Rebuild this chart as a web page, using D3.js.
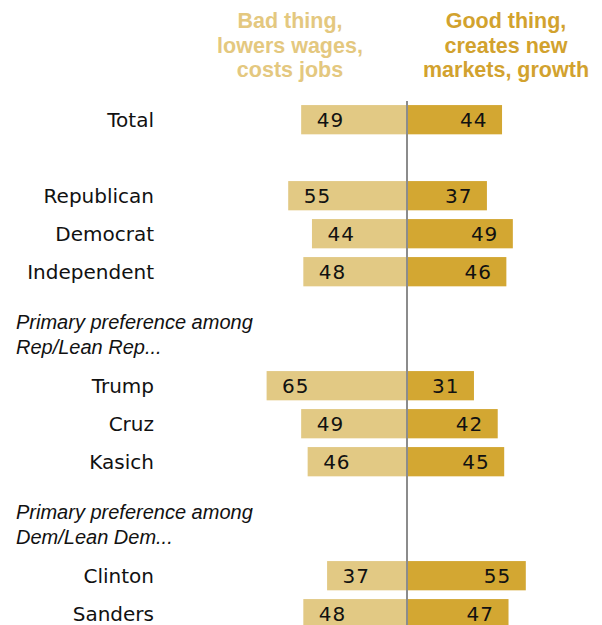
<!DOCTYPE html>
<html>
<head>
<meta charset="utf-8">
<script src="https://cdn.jsdelivr.net/npm/d3@7"></script>
<style>
  html, body { margin: 0; padding: 0; background: #ffffff; }
  svg { display: block; }
</style>
</head>
<body>
<div id="chart"></div>
<script>
// ---- data ----
const categories = ["Total", "Republican", "Democrat", "Independent", "Trump", "Cruz", "Kasich", "Clinton", "Sanders"];
const rowSlots   = [0, 2, 3, 4, 7, 8, 9, 12, 13];
const badValues  = [49, 55, 44, 48, 65, 49, 46, 37, 48];
const goodValues = [44, 37, 49, 46, 31, 42, 45, 55, 47];
const badHeader  = ["Bad thing,", "lowers wages,", "costs jobs"];
const goodHeader = ["Good thing,", "creates new", "markets, growth"];
const groupHeaders = [
  { before: "Trump",   lines: ["Primary preference among", "Rep/Lean Rep..."] },
  { before: "Clinton", lines: ["Primary preference among", "Dem/Lean Dem..."] }
];

// ---- layout ----
const W = 602, H = 625;
const center = 407;
const pxPerUnit = 2.16;
const badColor = "#e2c984", goodColor = "#d3a732";
const badText = "#e4c87f", goodText = "#d2a22e";

const svg = d3.select("#chart").append("svg").attr("width", W).attr("height", H);

const xLeft  = d3.scaleLinear().domain([0, 100]).range([center, center - 100 * pxPerUnit]);
const xRight = d3.scaleLinear().domain([0, 100]).range([center, center + 100 * pxPerUnit]);

const nSlots = 14;
const step = 38;
const y = d3.scaleBand()
  .domain(d3.range(nSlots))
  .range([119.7 - step / 2, 119.7 - step / 2 + nSlots * step])
  .paddingInner(0.23).paddingOuter(0.115);
const bh = y.bandwidth();
const cy = i => y(rowSlots[i]) + bh / 2;

const rows = categories.map((c, i) => ({ c, i, bad: badValues[i], good: goodValues[i] }));

// headers
const hdr = svg.append("g")
  .attr("font-family", "'Liberation Sans', Arial, sans-serif")
  .attr("font-weight", "bold").attr("font-size", "21.5px").attr("text-anchor", "middle");
hdr.selectAll("text.bad").data(badHeader).join("text").attr("class", "bad")
  .attr("x", 290).attr("y", (d, i) => 28 + i * 24.5).attr("fill", badText).text(d => d);
hdr.selectAll("text.good").data(goodHeader).join("text").attr("class", "good")
  .attr("x", 506).attr("y", (d, i) => 28 + i * 24.5).attr("fill", goodText).text(d => d);

// bars
svg.append("g").selectAll("rect").data(rows).join("rect")
  .attr("x", d => xLeft(d.bad)).attr("y", d => cy(d.i) - bh / 2)
  .attr("width", d => xLeft(0) - xLeft(d.bad)).attr("height", bh)
  .attr("fill", badColor);
svg.append("g").selectAll("rect").data(rows).join("rect")
  .attr("x", xRight(0)).attr("y", d => cy(d.i) - bh / 2)
  .attr("width", d => xRight(d.good) - xRight(0)).attr("height", bh)
  .attr("fill", goodColor);

// center line
svg.append("line").attr("x1", center).attr("x2", center).attr("y1", 101).attr("y2", H)
  .attr("stroke", "#8c8c8c").attr("stroke-width", 2);

// value labels
const vl = svg.append("g").attr("font-family", "'DejaVu Sans', sans-serif")
  .attr("font-size", "20px").attr("fill", "#111111").attr("letter-spacing", "1px");
vl.selectAll("text.b").data(rows).join("text").attr("class", "b")
  .attr("x", d => xLeft(d.bad) + 15.5).attr("y", d => cy(d.i) + 7)
  .text(d => d.bad);
vl.selectAll("text.g").data(rows).join("text").attr("class", "g")
  .attr("text-anchor", "end")
  .attr("x", d => xRight(d.good) - 14.5).attr("y", d => cy(d.i) + 7)
  .text(d => d.good);

// category labels
svg.append("g").attr("font-family", "'DejaVu Sans', sans-serif")
  .attr("font-size", "20px").attr("fill", "#111111").attr("text-anchor", "end")
  .selectAll("text").data(rows).join("text")
  .attr("x", 154).attr("y", d => cy(d.i) + 7).text(d => d.c);

// group headers (italic)
const gh = svg.append("g").attr("font-family", "'Liberation Sans', Arial, sans-serif")
  .attr("font-style", "italic").attr("font-size", "20px").attr("fill", "#111111");
groupHeaders.forEach(g => {
  const idx = categories.indexOf(g.before);
  const base = cy(idx);
  gh.selectAll(null).data(g.lines).join("text")
    .attr("x", 16).attr("y", (d, i) => base - 57 + i * 25).text(d => d);
});
</script>
</body>
</html>
